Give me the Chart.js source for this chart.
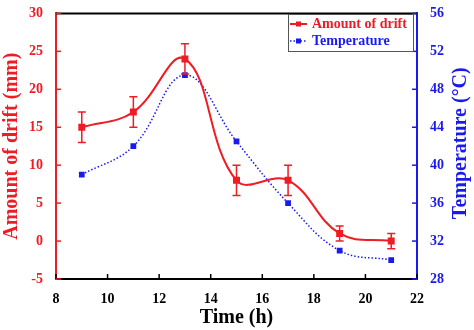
<!DOCTYPE html>
<html><head><meta charset="utf-8">
<script src="https://cdn.jsdelivr.net/npm/chart.js@4.4.1/dist/chart.umd.min.js"></script>
<style>html,body{margin:0;padding:0;background:#fff}#wrap{width:474px;height:330px}</style>
</head><body><div id="wrap"><canvas id="c" width="474" height="330"></canvas></div>
<script>
const timeH = [9, 11, 13, 15, 17, 19, 21];
const driftMM = [15, 17, 24, 8, 8, 1, 0];
const driftErr = [2, 2, 2, 2, 2, 1, 1];
const temperatureC = [39, 42, 49.5, 42.5, 36, 31, 30];
const xTicks = [8, 10, 12, 14, 16, 18, 20, 22];
const yLeftTicks = [-5, 0, 5, 10, 15, 20, 25, 30];
const yRightTicks = [28, 32, 36, 40, 44, 48, 52, 56];
const RED = '#ee1c24', BLUE = '#1a1aee';
const FONT = "'Liberation Serif','Times New Roman',serif";

const driftPts = timeH.map((x, i) => ({x, y: driftMM[i]}));
const tempPts = timeH.map((x, i) => ({x, y: temperatureC[i]}));

const extras = {
  id: 'extras',
  afterDatasetsDraw(chart) {
    const ctx = chart.ctx, a = chart.chartArea;
    const sx = chart.scales.x, yl = chart.scales.y, yr = chart.scales.y2;
    ctx.save();
    ctx.strokeStyle = RED; ctx.lineWidth = 1.5;
    timeH.forEach((t, i) => {
      const px = sx.getPixelForValue(t);
      const top = yl.getPixelForValue(driftMM[i] + driftErr[i]);
      const bot = yl.getPixelForValue(driftMM[i] - driftErr[i]);
      ctx.beginPath();
      ctx.moveTo(px, top); ctx.lineTo(px, bot);
      ctx.moveTo(px - 4, top); ctx.lineTo(px + 4, top);
      ctx.moveTo(px - 4, bot); ctx.lineTo(px + 4, bot);
      ctx.stroke();
    });
    ctx.strokeStyle = '#000'; ctx.lineWidth = 2;
    ctx.beginPath(); ctx.moveTo(a.left, a.top); ctx.lineTo(a.right, a.top); ctx.stroke();
    ctx.lineWidth = 1.5;
    ctx.strokeStyle = '#000';
    xTicks.forEach(v => { const p = sx.getPixelForValue(v); ctx.beginPath(); ctx.moveTo(p, a.bottom); ctx.lineTo(p, a.bottom - 5); ctx.stroke(); });
    ctx.strokeStyle = RED;
    yLeftTicks.forEach(v => { const p = yl.getPixelForValue(v); ctx.beginPath(); ctx.moveTo(a.left, p); ctx.lineTo(a.left + 5, p); ctx.stroke(); });
    ctx.strokeStyle = BLUE;
    yRightTicks.forEach(v => { const p = yr.getPixelForValue(v); ctx.beginPath(); ctx.moveTo(a.right, p); ctx.lineTo(a.right - 5, p); ctx.stroke(); });
    ctx.save();
    ctx.translate(461, (a.top + a.bottom) / 2 - 3);
    ctx.rotate(-Math.PI / 2);
    ctx.font = "bold 20px " + FONT; ctx.fillStyle = BLUE;
    ctx.textAlign = 'center'; ctx.textBaseline = 'middle';
    ctx.fillText('Temperature (\u00b0C)', 0, 0);
    ctx.restore();
    const bx = 288, by = 14, bw = 125, bh = 37;
    ctx.fillStyle = '#fff'; ctx.fillRect(bx, by, bw, bh);
    ctx.strokeStyle = '#555'; ctx.lineWidth = 1; ctx.strokeRect(bx + 0.5, by + 0.5, bw, bh);
    ctx.font = "bold 14px " + FONT; ctx.textBaseline = 'middle'; ctx.textAlign = 'left';
    let ly = by + 10;
    ctx.strokeStyle = RED; ctx.lineWidth = 2;
    ctx.beginPath(); ctx.moveTo(bx + 2, ly); ctx.lineTo(bx + 19, ly); ctx.stroke();
    ctx.fillStyle = RED; ctx.fillRect(bx + 8, ly - 2.5, 5, 5);
    ctx.fillText('Amount of drift', bx + 24, ly);
    ly = by + 27;
    ctx.strokeStyle = BLUE; ctx.lineWidth = 1.5; ctx.setLineDash([1.5, 2]);
    ctx.beginPath(); ctx.moveTo(bx + 2, ly); ctx.lineTo(bx + 19, ly); ctx.stroke();
    ctx.setLineDash([]);
    ctx.fillStyle = BLUE; ctx.fillRect(bx + 8, ly - 2.5, 5, 5);
    ctx.fillText('Temperature', bx + 24, ly);
    ctx.restore();
  }
};

new Chart(document.getElementById('c'), {
  type: 'line',
  data: {
    datasets: [
      { label: 'Amount of drift', data: driftPts, yAxisID: 'y', borderColor: RED, backgroundColor: RED,
        borderWidth: 2, pointStyle: 'rect', pointRadius: 3.5, tension: 0.4 },
      { label: 'Temperature', data: tempPts, yAxisID: 'y2', borderColor: BLUE, backgroundColor: BLUE,
        borderWidth: 1.5, borderDash: [1.5, 2], pointStyle: 'rect', pointRadius: 3, tension: 0.4 }
    ]
  },
  options: {
    responsive: false, animation: false, devicePixelRatio: 1,
    layout: { padding: { top: 12, left: 0, right: 0, bottom: 0 } },
    plugins: { legend: { display: false }, tooltip: { enabled: false } },
    scales: {
      x: { type: 'linear', min: 8, max: 22, afterFit: s => { s.height = 51; },
        afterBuildTicks: s => { s.ticks = xTicks.map(v => ({value: v})); },
        grid: { display: false }, border: { display: true, color: '#000', width: 2 },
        ticks: { color: '#000', font: { family: FONT, size: 14, weight: 'bold' }, padding: 4, maxRotation: 0 },
        title: { display: true, text: 'Time (h)', color: '#000', font: { family: FONT, size: 20, weight: 'bold' }, padding: { top: 0, bottom: 0 } } },
      y: { type: 'linear', position: 'left', min: -5, max: 30, afterFit: s => { s.width = 56; },
        afterBuildTicks: s => { s.ticks = yLeftTicks.map(v => ({value: v})); },
        grid: { display: false }, border: { display: true, color: RED, width: 2 },
        ticks: { color: RED, font: { family: FONT, size: 14, weight: 'bold' }, padding: 5 },
        title: { display: true, text: 'Amount of drift (mm)', color: RED, font: { family: FONT, size: 20, weight: 'bold' }, padding: { top: 0, bottom: 2 } } },
      y2: { type: 'linear', position: 'right', min: 28, max: 56, afterFit: s => { s.width = 57; },
        afterBuildTicks: s => { s.ticks = yRightTicks.map(v => ({value: v})); },
        grid: { display: false }, border: { display: true, color: BLUE, width: 2 },
        ticks: { color: BLUE, font: { family: FONT, size: 14, weight: 'bold' }, padding: 5 },
        title: { display: false } }
    }
  },
  plugins: [extras]
});
</script></body></html>
